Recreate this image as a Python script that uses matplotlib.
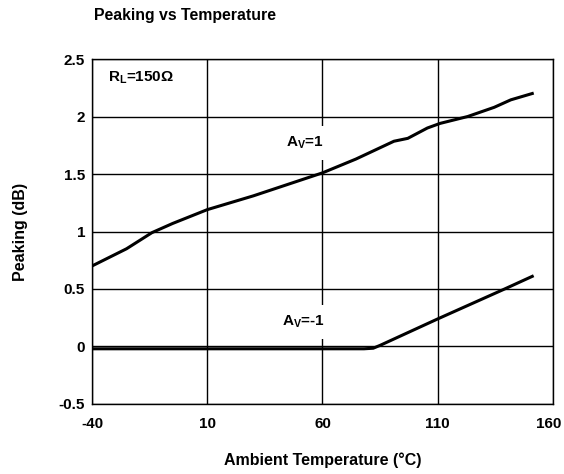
import matplotlib.pyplot as plt
from matplotlib.transforms import ScaledTranslation

plt.rcParams['font.family'] = ['Liberation Sans', 'DejaVu Sans']
plt.rcParams['font.weight'] = 'bold'
plt.rcParams['mathtext.fontset'] = 'custom'
plt.rcParams['mathtext.rm'] = 'Liberation Sans:bold'
plt.rcParams['mathtext.bf'] = 'Liberation Sans:bold'
plt.rcParams['mathtext.it'] = 'Liberation Sans:bold'

# A_V = 1 curve
t_av1 = [-40, -25, -14, -5, 10, 30, 60, 74.5, 91, 97, 105.5, 111, 123, 134.5, 141.7, 151]
p_av1 = [0.70, 0.85, 0.99, 1.07, 1.19, 1.31, 1.51, 1.63, 1.785, 1.81, 1.90, 1.94, 2.00, 2.08, 2.145, 2.20]
# A_V = -1 curve
t_avm1 = [-40, 0, 40, 78, 82, 85, 110, 139, 151]
p_avm1 = [-0.02, -0.02, -0.02, -0.02, -0.015, 0.01, 0.24, 0.50, 0.61]

xticks = [-40, 10, 60, 110, 160]
yticks = [-0.5, 0, 0.5, 1, 1.5, 2, 2.5]
ylabels = ['-0.5', '0', '0.5', '1', '1.5', '2', '2.5']

fig = plt.figure(figsize=(5.64, 4.74), dpi=100)
ax = fig.add_axes([0.1631, 0.1477, 0.8174, 0.7278])

ax.plot(t_av1, p_av1, color='black', lw=2.2, zorder=3)
ax.plot(t_avm1, p_avm1, color='black', lw=2.2, zorder=3)

ax.set_xlim(-40, 160)
ax.set_ylim(-0.5, 2.5)
ax.set_xticks(xticks)
ax.set_xticklabels([str(v) for v in xticks])
ax.set_yticks(yticks)
ax.set_yticklabels(ylabels)
ax.tick_params(length=0, labelsize=11)
ax.tick_params(axis='x', pad=9.5)
ax.tick_params(axis='y', pad=5)
ax.grid(True, color='black', lw=1.0)
for s in ax.spines.values():
    s.set_linewidth(1.0)

# last x label sits a little left so it stays inside the figure
last = ax.get_xticklabels()[-1]
last.set_transform(last.get_transform() + ScaledTranslation(-0.04, 0, fig.dpi_scale_trans))

bb = dict(facecolor='white', edgecolor='none', boxstyle='square,pad=0.6')
ax.text(-33, 2.335, r'$\mathbf{R_L}$=150Ω', fontsize=11, va='center', ha='left')
ax.text(60.5, 1.77, r'$\mathbf{A_V}$=1', fontsize=11, va='center', ha='right', bbox=bb, zorder=4)
ax.text(60.8, 0.213, r'$\mathbf{A_V}$=-1', fontsize=11, va='center', ha='right', bbox=bb, zorder=4)

ax.set_xlabel('Ambient Temperature (°C)', fontsize=11.5, fontweight='bold', va='center')
ax.xaxis.set_label_coords(0.5, -0.162)
ax.set_ylabel('Peaking (dB)', fontsize=11.5, fontweight='bold', va='center')
ax.yaxis.set_label_coords(-0.156, 0.5)
fig.text(0.167, 0.968, 'Peaking vs Temperature', fontsize=11.4, fontweight='bold', ha='left', va='center')

plt.savefig('out.png', dpi=100)
